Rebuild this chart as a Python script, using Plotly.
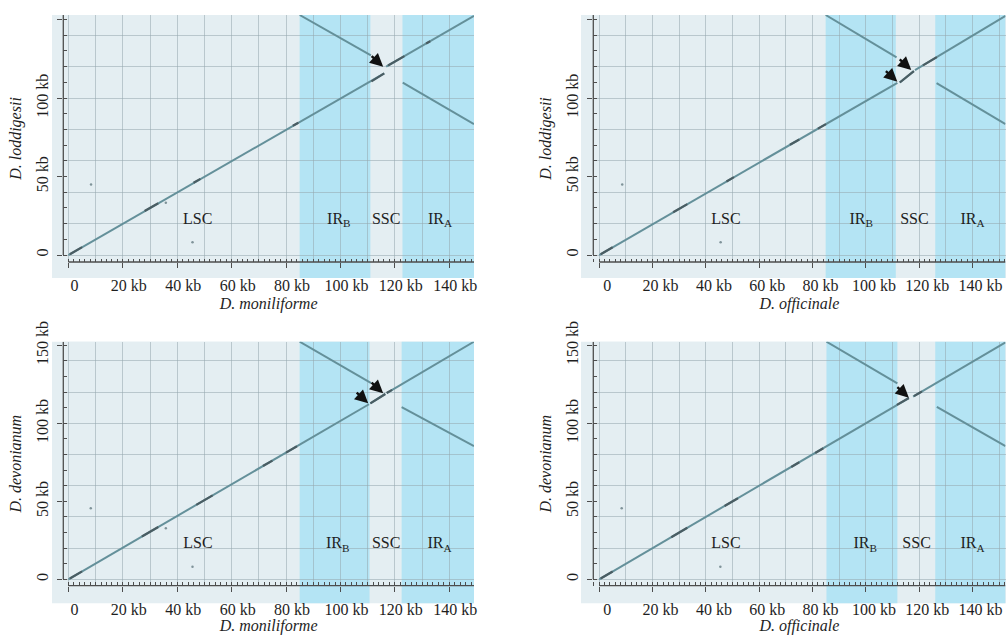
import plotly.graph_objects as go

# ------------------------------------------------------------------
# Data (all values in kb)
# ------------------------------------------------------------------
region_names = ["LSC", "IR<sub>B</sub>", "SSC", "IR<sub>A</sub>"]
region_label_y = 22.5

x_tickvals = [0, 20, 40, 60, 80, 100, 120, 140]
x_ticktext = ["0", "20 kb", "40 kb", "60 kb", "80 kb", "100 kb", "120 kb", "140 kb"]
y_tickvals = [0, 50, 100, 150]
y_ticktext = ["0", "50 kb", "100 kb", "150 kb"]

# Panel 1: D. moniliforme (x) vs D. loddigesii (y)
p1_fwd_x = [0, 116.1, None, 116.8, 149.1]
p1_fwd_y = [0, 115.7, None, 120.0, 152.3]
p1_rev_x = [85.0, 111.2, None, 122.9, 149.1]
p1_rev_y = [152.9, 127.2, None, 109.8, 83.4]
p1_dark_x = [0.5, 5, None, 28, 33, None, 46, 48.5, None, 82.5, 84.5, None, 111.4, 116.1, None, 117.5, 123.5, None, 131.5, 133]
p1_dark_y = [0.5, 5, None, 28, 33, None, 46, 48.5, None, 82.3, 84.3, None, 110.6, 115.7, None, 120.7, 126.7, None, 134.7, 136.2]
p1_dots_x = [8.3, 35.8, 45.6]
p1_dots_y = [45.0, 33.3, 8.1]
p1_arrow_x = [115.7]
p1_arrow_y = [119.9]
p1_ir_b = [85.0, 111.0]
p1_ir_a = [122.8, 149.1]
p1_label_x = [47.5, 99.4, 116.8, 136.6]

# Panel 2: D. officinale (x) vs D. loddigesii (y)
p2_fwd_x = [0, 111.8, None, 112.7, 118.0, None, 118.4, 152.35]
p2_fwd_y = [0, 109.7, None, 109.9, 117.2, None, 117.8, 152.3]
p2_rev_x = [84.9, 111.5, None, 126.5, 152.35]
p2_rev_y = [152.9, 125.9, None, 109.5, 83.4]
p2_dark_x = [0.5, 5, None, 27.7, 33, None, 47.7, 50.5, None, 71.5, 75, None, 82, 85, None, 112.7, 118.0, None, 121.4, 126.6]
p2_dark_y = [0.5, 4.9, None, 27.2, 32.4, None, 46.8, 49.6, None, 70.2, 73.6, None, 80.5, 83.4, None, 109.9, 117.2, None, 120.8, 126.1]
p2_dots_x = [8.6, 45.5]
p2_dots_y = [45.0, 8.1]
p2_arrow_x = [117.0, 111.8]
p2_arrow_y = [117.8, 110.4]
p2_ir_b = [84.9, 111.2]
p2_ir_a = [126.0, 152.35]
p2_label_x = [47.5, 98.2, 118.2, 140.0]

# Panel 3: D. moniliforme (x) vs D. devonianum (y)
p3_fwd_x = [0, 110.5, None, 111.0, 116.5, None, 117.0, 149.1]
p3_fwd_y = [0, 112.2, None, 112.8, 118.8, None, 119.4, 152.3]
p3_rev_x = [85.0, 111.3, None, 122.5, 149.1]
p3_rev_y = [152.3, 125.8, None, 110.4, 85.4]
p3_dark_x = [0.5, 5, None, 27, 33, None, 47, 53, None, 71.5, 75, None, 80, 84, None, 111.0, 116.5, None, 117, 119]
p3_dark_y = [0.5, 5.1, None, 27.4, 33.5, None, 47.7, 53.8, None, 72.6, 76.1, None, 81.2, 85.3, None, 112.8, 118.8, None, 119.4, 121.4]
p3_dots_x = [8.2, 35.8, 45.6]
p3_dots_y = [45.5, 32.7, 8.1]
p3_arrow_x = [115.7, 110.2]
p3_arrow_y = [119.2, 112.8]
p3_ir_b = [85.0, 110.7]
p3_ir_a = [122.5, 149.1]
p3_label_x = [47.6, 99.0, 116.8, 136.4]

# Panel 4: D. officinale (x) vs D. devonianum (y)
p4_fwd_x = [0, 116.1, None, 117.7, 152.35]
p4_fwd_y = [0, 116.2, None, 117.1, 151.9]
p4_rev_x = [85.2, 111.8, None, 126.6, 152.35]
p4_rev_y = [152.3, 125.6, None, 110.6, 85.4]
p4_dark_x = [0.5, 5, None, 27, 33, None, 47, 52, None, 72, 75, None, 81, 84, None, 111.6, 116.1, None, 118, 121]
p4_dark_y = [0.5, 5, None, 27, 33, None, 47, 52, None, 72, 75, None, 81, 84, None, 111.8, 116.2, None, 117.4, 120.4]
p4_dots_x = [8.4, 45.4]
p4_dots_y = [45.5, 8.1]
p4_arrow_x = [116.1]
p4_arrow_y = [116.4]
p4_ir_b = [85.2, 111.8]
p4_ir_a = [126.0, 152.35]
p4_label_x = [47.5, 99.7, 119.0, 140.0]

x_titles = ["D. moniliforme", "D. officinale", "D. moniliforme", "D. officinale"]
y_titles = ["D. loddigesii", "D. loddigesii", "D. devonianum", "D. devonianum"]

# ------------------------------------------------------------------
# Styling / layout geometry (pixels of the 1008 x 635 canvas)
# ------------------------------------------------------------------
W, H = 1008, 635
FONT = "Liberation Serif"
BG = "#e4eef2"
IR_COLOR = "#b4e4f4"
LINE = "#64909a"
DARK = "#4a5d63"
DOT = "#7f9399"
GRID = "rgba(150,168,175,0.55)"
AXIS = "#4d4d4d"
TEXT = "#1e1e1e"

# axis box (left, right, top, bottom) and background box in px
axis_boxes = [(63.3, 474.0, 15.0, 262.0), (593.3, 1005.5, 15.0, 262.0),
              (63.3, 474.0, 341.7, 585.7), (593.3, 1005.5, 341.7, 585.7)]
bg_boxes = [(52, 474, 15, 278), (581, 1006, 15, 278),
            (52, 474, 341.7, 603.3), (581, 1006, 341.7, 603.3)]
x_ranges = [[-1.9, 149.1], [-2.25, 152.35], [-1.9, 149.1], [-2.25, 152.35]]
y_ranges = [[-4.45, 152.9], [-4.45, 152.9], [-4.1, 152.3], [-4.1, 152.3]]
label_shift = [6, 8, 6, 8]

panels = [
    dict(fx=p1_fwd_x, fy=p1_fwd_y, rx=p1_rev_x, ry=p1_rev_y, dx=p1_dark_x, dy=p1_dark_y,
         px=p1_dots_x, py=p1_dots_y, ax=p1_arrow_x, ay=p1_arrow_y, irb=p1_ir_b, ira=p1_ir_a, lx=p1_label_x),
    dict(fx=p2_fwd_x, fy=p2_fwd_y, rx=p2_rev_x, ry=p2_rev_y, dx=p2_dark_x, dy=p2_dark_y,
         px=p2_dots_x, py=p2_dots_y, ax=p2_arrow_x, ay=p2_arrow_y, irb=p2_ir_b, ira=p2_ir_a, lx=p2_label_x),
    dict(fx=p3_fwd_x, fy=p3_fwd_y, rx=p3_rev_x, ry=p3_rev_y, dx=p3_dark_x, dy=p3_dark_y,
         px=p3_dots_x, py=p3_dots_y, ax=p3_arrow_x, ay=p3_arrow_y, irb=p3_ir_b, ira=p3_ir_a, lx=p3_label_x),
    dict(fx=p4_fwd_x, fy=p4_fwd_y, rx=p4_rev_x, ry=p4_rev_y, dx=p4_dark_x, dy=p4_dark_y,
         px=p4_dots_x, py=p4_dots_y, ax=p4_arrow_x, ay=p4_arrow_y, irb=p4_ir_b, ira=p4_ir_a, lx=p4_label_x),
]


def px2paper_x(v):
    return v / W


def px2paper_y(v):
    return 1 - v / H


fig = go.Figure()
layout = dict(
    width=W, height=H, autosize=False,
    margin=dict(l=0, r=0, t=0, b=0),
    paper_bgcolor="white", plot_bgcolor=BG,
    showlegend=False,
    font=dict(family=FONT, size=16, color=TEXT),
)
shapes = []
annotations = []

for i, p in enumerate(panels):
    n = i + 1
    g = i + 5  # overlay axes that only carry the grid
    xs = "" if n == 1 else str(n)
    xa, ya = "x" + xs, "y" + xs
    xg, yg = "x" + str(g), "y" + str(g)
    l, r, t, b = axis_boxes[i]
    dom_x = [px2paper_x(l), px2paper_x(r)]
    dom_y = [px2paper_y(b), px2paper_y(t)]

    layout["xaxis" + xs] = dict(
        domain=dom_x, range=x_ranges[i], anchor=ya, automargin=False,
        showgrid=False, zeroline=False, showline=False,
        tickmode="array", tickvals=x_tickvals, ticktext=x_ticktext,
        ticks="outside", ticklen=5, tickwidth=1.2, tickcolor=AXIS,
        minor=dict(dtick=2, tick0=0, ticks="inside", ticklen=3.5, tickwidth=1, tickcolor=AXIS, showgrid=False),
        tickfont=dict(family=FONT, size=16, color=TEXT),
        ticklabelstandoff=4, ticklabelshift=label_shift[i],
        title=dict(text="<i>" + x_titles[i] + "</i>", font=dict(family=FONT, size=16, color=TEXT), standoff=4),
    )
    layout["yaxis" + xs] = dict(
        domain=dom_y, range=y_ranges[i], anchor=xa, automargin=False,
        showgrid=False, zeroline=False, showline=False,
        tickmode="array", tickvals=y_tickvals, ticktext=y_ticktext,
        ticks="outside", ticklen=5, tickwidth=1.2, tickcolor=AXIS,
        minor=dict(dtick=10, tick0=0, ticks="inside", ticklen=4, tickwidth=1, tickcolor=AXIS, showgrid=False),
        tickangle=-90,
        tickfont=dict(family=FONT, size=16, color=TEXT),
        ticklabelstandoff=3,
        title=dict(text="<i>" + y_titles[i] + "</i>", font=dict(family=FONT, size=16, color=TEXT), standoff=8),
    )
    # grid-only overlay axes (x grid every 10 kb, y grid every 20 kb)
    layout["xaxis" + str(g)] = dict(
        overlaying=xa, anchor=yg, range=x_ranges[i], showgrid=True, gridcolor=GRID, gridwidth=1,
        tick0=0, dtick=10, showticklabels=False, ticks="", showline=False, zeroline=False,
    )
    layout["yaxis" + str(g)] = dict(
        overlaying=ya, anchor=xg, range=y_ranges[i], showgrid=True, gridcolor=GRID, gridwidth=1,
        tick0=0, dtick=20, showticklabels=False, ticks="", showline=False, zeroline=False,
    )
    fig.add_trace(go.Scatter(x=[None], y=[None], xaxis=xg, yaxis=yg, mode="lines", hoverinfo="skip"))

    # background panel (extends a little beyond the axes, as in the original)
    bl, br, bt, bb = bg_boxes[i]
    shapes.append(dict(type="rect", xref="paper", yref="paper", layer="below",
                       x0=px2paper_x(bl), x1=px2paper_x(br), y0=px2paper_y(bb), y1=px2paper_y(bt),
                       fillcolor=BG, line=dict(width=0)))
    # inverted-repeat regions
    for ir in (p["irb"], p["ira"]):
        shapes.append(dict(type="rect", xref=xa, yref="paper", layer="below",
                           x0=ir[0], x1=ir[1], y0=px2paper_y(bb), y1=px2paper_y(bt),
                           fillcolor=IR_COLOR, line=dict(width=0)))
    # axis lines start at 0 kb (they do not meet at the corner in the original)
    shapes.append(dict(type="line", xref=xa, yref=ya + " domain", layer="above",
                       x0=0, x1=x_ranges[i][1], y0=0, y1=0,
                       line=dict(color=AXIS, width=1.3)))
    shapes.append(dict(type="line", xref=xa + " domain", yref=ya, layer="above",
                       x0=0, x1=0, y0=0, y1=y_ranges[i][1],
                       line=dict(color=AXIS, width=1.3)))

    # dot-plot lines
    fig.add_trace(go.Scatter(x=p["fx"], y=p["fy"], xaxis=xa, yaxis=ya, mode="lines",
                             line=dict(color=LINE, width=2), hoverinfo="skip"))
    fig.add_trace(go.Scatter(x=p["rx"], y=p["ry"], xaxis=xa, yaxis=ya, mode="lines",
                             line=dict(color=LINE, width=2), hoverinfo="skip"))
    fig.add_trace(go.Scatter(x=p["dx"], y=p["dy"], xaxis=xa, yaxis=ya, mode="lines",
                             line=dict(color=DARK, width=2.2), hoverinfo="skip"))
    fig.add_trace(go.Scatter(x=p["px"], y=p["py"], xaxis=xa, yaxis=ya, mode="markers",
                             marker=dict(color=DOT, size=2.5), hoverinfo="skip"))
    # region labels
    fig.add_trace(go.Scatter(x=p["lx"], y=[region_label_y] * 4, xaxis=xa, yaxis=ya, mode="text",
                             text=region_names, textposition="middle center",
                             textfont=dict(family=FONT, size=16, color=TEXT), hoverinfo="skip"))
    # arrows
    for axv, ayv in zip(p["ax"], p["ay"]):
        annotations.append(dict(x=axv, y=ayv, xref=xa, yref=ya, text="", showarrow=True,
                                ax=-13, ay=-12, arrowhead=2, arrowsize=1.1, arrowwidth=2.4,
                                arrowcolor="#111111", standoff=0))

layout["shapes"] = shapes
layout["annotations"] = annotations
fig.update_layout(**layout)
fig.write_html("out.html")
